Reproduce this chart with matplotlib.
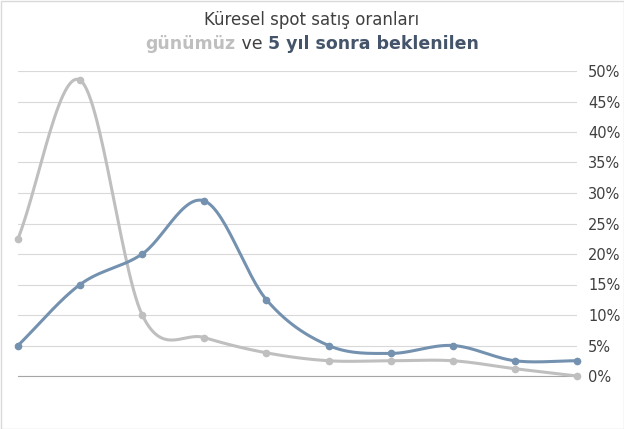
import numpy as np
import matplotlib
matplotlib.use("Agg")
import matplotlib.pyplot as plt
from matplotlib.ticker import FuncFormatter

x_idx = list(range(10))
today = [22.5, 48.5, 10.0, 6.3, 3.8, 2.5, 2.5, 2.5, 1.2, 0.0]
future = [5.0, 15.0, 20.0, 28.7, 12.5, 5.0, 3.7, 5.0, 2.5, 2.5]
yticks = [0, 5, 10, 15, 20, 25, 30, 35, 40, 45, 50]

def smooth(xs, ys, n=30):
    xs = np.asarray(xs, float); ys = np.asarray(ys, float)
    px = np.concatenate([[2*xs[0]-xs[1]], xs, [2*xs[-1]-xs[-2]]])
    py = np.concatenate([[2*ys[0]-ys[1]], ys, [2*ys[-1]-ys[-2]]])
    ox, oy = [], []
    for i in range(1, len(px)-2):
        t = np.linspace(0, 1, n)
        for p, o in ((px, ox), (py, oy)):
            p0, p1, p2, p3 = p[i-1], p[i], p[i+1], p[i+2]
            o.extend(0.5*((2*p1) + (-p0+p2)*t + (2*p0-5*p1+4*p2-p3)*t**2 + (-p0+3*p1-3*p2+p3)*t**3))
    return ox, oy

fig = plt.figure(figsize=(6.24, 4.29), dpi=100)
ax = fig.add_axes([18/624, 1-376/429, (577-18)/624, (376-71)/429])
gray = "#bfbfbf"; blue = "#7492b0"
for ys, c in ((today, gray), (future, blue)):
    sx, sy = smooth(x_idx, ys)
    ax.plot(sx, sy, color=c, lw=2.2, zorder=3)
    ax.plot(x_idx, ys, 'o', color=c, ms=4.5, zorder=4)
ax.set_xlim(0, 9)
ax.set_ylim(0, 50)
ax.set_yticks(yticks)
ax.yaxis.set_major_formatter(FuncFormatter(lambda v, p: f"{int(v)}%"))
ax.yaxis.tick_right()
ax.tick_params(axis='y', length=0, labelsize=10.5, colors="#404040", pad=8)
ax.set_xticks([])
ax.grid(axis='y', color="#d9d9d9", lw=0.8)
for s in ax.spines.values():
    s.set_visible(False)
ax.axhline(0, color="#a6a6a6", lw=0.8)
ax.set_clip_on(False)
for l in ax.lines:
    l.set_clip_on(False)

fig.text(0.5, 1-20/429, "Küresel spot satış oranları", ha='center', va='center', fontsize=12, color="#404040")
t1 = fig.text(0.5, 1-44/429, " ", ha='center', va='center')
fig.canvas.draw()
parts = [("günümüz", gray, 'bold'), (" ve ", "#404040", 'normal'), ("5 yıl sonra beklenilen", "#44546a", 'bold')]
r = fig.canvas.get_renderer()
texts = []
for s, c, w in parts:
    tt = fig.text(0, 1-44/429, s, color=c, fontweight=w, fontsize=12.5, va='center')
    texts.append(tt)
widths = [tt.get_window_extent(r).width for tt in texts]
total = sum(widths)
x0 = (624 - total) / 2
for tt, w in zip(texts, widths):
    tt.set_x(x0 / 624)
    x0 += w
fig.patches.append(plt.Rectangle((0.5/624, 0.5/429), 1-1/624, 1-1/429, transform=fig.transFigure, fill=False, ec="#d9d9d9", lw=1))
fig.savefig("out.png", dpi=100)
